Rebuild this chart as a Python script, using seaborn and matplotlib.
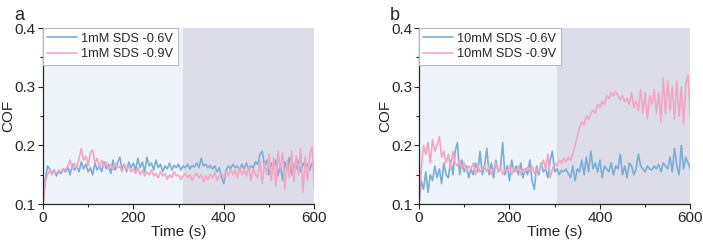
"""
COF vs time, two SDS concentrations, -0.6 V / -0.9 V (panels a, b)
"""
import numpy as np
import pandas as pd
import matplotlib
matplotlib.use("Agg")
import matplotlib.pyplot as plt
import seaborn as sns
from matplotlib.ticker import MultipleLocator

# time axis (s), sampled every 5 s
time_s = np.arange(0, 601, 5)

# panel a : 1mM SDS
a_06 = [
    0.100, 0.140, 0.165, 0.160, 0.152, 0.158, 0.148, 0.156, 0.152, 0.160,
    0.155, 0.162, 0.150, 0.168, 0.158, 0.165, 0.155, 0.172, 0.160, 0.168,
    0.155, 0.162, 0.150, 0.170, 0.158, 0.165, 0.155, 0.172, 0.160, 0.168,
    0.152, 0.175, 0.158, 0.170, 0.180, 0.160, 0.168, 0.155, 0.172, 0.162,
    0.170, 0.158, 0.178, 0.162, 0.172, 0.155, 0.180, 0.165, 0.170, 0.158,
    0.175, 0.162, 0.168, 0.155, 0.165, 0.160, 0.170, 0.158, 0.166, 0.162,
    0.168, 0.158, 0.165, 0.162, 0.168, 0.160, 0.166, 0.163, 0.170, 0.162,
    0.178, 0.165, 0.168, 0.162, 0.166, 0.160, 0.165, 0.155, 0.162, 0.145,
    0.135, 0.158, 0.165, 0.160, 0.168, 0.162, 0.165, 0.158, 0.168, 0.160,
    0.170, 0.158, 0.165, 0.162, 0.172, 0.168, 0.185, 0.190, 0.165, 0.175,
    0.150, 0.170, 0.160, 0.175, 0.148, 0.168, 0.140, 0.172, 0.158, 0.180,
    0.150, 0.168, 0.160, 0.175, 0.155, 0.170, 0.162, 0.168, 0.158, 0.170,
    0.160,
]
a_09 = [
    0.100, 0.135, 0.150, 0.158, 0.150, 0.156, 0.152, 0.158, 0.155, 0.160,
    0.158, 0.165, 0.175, 0.160, 0.170, 0.162, 0.178, 0.195, 0.175, 0.182,
    0.165, 0.188, 0.192, 0.170, 0.178, 0.162, 0.175, 0.165, 0.172, 0.160,
    0.168, 0.158, 0.170, 0.162, 0.165, 0.155, 0.168, 0.158, 0.165, 0.155,
    0.160, 0.152, 0.162, 0.150, 0.158, 0.148, 0.155, 0.150, 0.158, 0.148,
    0.152, 0.145, 0.155, 0.148, 0.152, 0.142, 0.150, 0.145, 0.155, 0.148,
    0.150, 0.142, 0.148, 0.152, 0.145, 0.150, 0.140, 0.148, 0.152, 0.145,
    0.150, 0.138, 0.148, 0.142, 0.150, 0.145, 0.155, 0.140, 0.148, 0.152,
    0.145, 0.155, 0.148, 0.160, 0.150, 0.158, 0.145, 0.162, 0.150, 0.158,
    0.148, 0.165, 0.140, 0.160, 0.150, 0.145, 0.175, 0.135, 0.170, 0.150,
    0.185, 0.140, 0.178, 0.130, 0.190, 0.160, 0.188, 0.125, 0.175, 0.145,
    0.190, 0.138, 0.182, 0.150, 0.195, 0.120, 0.180, 0.140, 0.185, 0.198,
    0.130,
]

# panel b : 10mM SDS
b_06 = [
    0.100, 0.140, 0.125, 0.155, 0.120, 0.150, 0.140, 0.165, 0.145, 0.160,
    0.135, 0.170, 0.150, 0.145, 0.175, 0.150, 0.190, 0.205, 0.150, 0.175,
    0.155, 0.165, 0.145, 0.160, 0.150, 0.170, 0.155, 0.190, 0.150, 0.165,
    0.195, 0.150, 0.170, 0.145, 0.175, 0.155, 0.160, 0.205, 0.150, 0.165,
    0.140, 0.175, 0.155, 0.165, 0.150, 0.170, 0.145, 0.160, 0.150, 0.175,
    0.140, 0.125, 0.165, 0.150, 0.170, 0.155, 0.160, 0.145, 0.175, 0.190,
    0.155, 0.160, 0.150, 0.158, 0.155, 0.160, 0.152, 0.145, 0.165, 0.140,
    0.160, 0.155, 0.175, 0.150, 0.180, 0.155, 0.190, 0.160, 0.170, 0.155,
    0.175, 0.145, 0.165, 0.160, 0.155, 0.170, 0.150, 0.165, 0.160, 0.185,
    0.150, 0.165, 0.145, 0.170, 0.165, 0.150, 0.160, 0.185, 0.165, 0.160,
    0.155, 0.165, 0.160, 0.158, 0.165, 0.160, 0.168, 0.155, 0.170, 0.165,
    0.160, 0.180, 0.155, 0.195, 0.165, 0.150, 0.200, 0.160, 0.180, 0.170,
    0.160,
]
b_09 = [
    0.100, 0.160, 0.200, 0.185, 0.205, 0.170, 0.210, 0.190, 0.200, 0.215,
    0.180, 0.190, 0.170, 0.185, 0.160, 0.190, 0.170, 0.165, 0.175, 0.160,
    0.170, 0.155, 0.165, 0.160, 0.170, 0.150, 0.165, 0.155, 0.160, 0.165,
    0.155, 0.165, 0.150, 0.160, 0.170, 0.155, 0.165, 0.150, 0.160, 0.155,
    0.165, 0.150, 0.162, 0.155, 0.165, 0.150, 0.160, 0.155, 0.163, 0.155,
    0.165, 0.152, 0.160, 0.155, 0.165, 0.175, 0.160, 0.185, 0.145, 0.160,
    0.170, 0.165, 0.175, 0.170, 0.178, 0.172, 0.180, 0.175, 0.185, 0.200,
    0.215, 0.230, 0.240, 0.235, 0.250, 0.245, 0.255, 0.260, 0.255, 0.270,
    0.265, 0.275, 0.270, 0.285, 0.280, 0.290, 0.285, 0.292, 0.285, 0.278,
    0.285, 0.275, 0.280, 0.270, 0.290, 0.265, 0.275, 0.260, 0.295, 0.255,
    0.290, 0.245, 0.285, 0.270, 0.295, 0.255, 0.290, 0.240, 0.315, 0.255,
    0.310, 0.260, 0.300, 0.245, 0.310, 0.250, 0.300, 0.235, 0.305, 0.320,
    0.250,
]

# shaded halves (start of second stage, s)
split_a = 310
split_b = 305

panels = [
    ("a", split_a, {"1mM SDS -0.6V": a_06, "1mM SDS -0.9V": a_09}),
    ("b", split_b, {"10mM SDS -0.6V": b_06, "10mM SDS -0.9V": b_09}),
]

BLUE = "#7aaed4"
PINK = "#f1a7c3"
LIGHT = "#eff4fa"
DARK = "#dddde9"

sns.set_style("ticks")
plt.rcParams["font.family"] = ["Liberation Sans", "DejaVu Sans"]
plt.rcParams["font.size"] = 9

fig = plt.figure(figsize=(7.03, 2.45), dpi=100)
lefts = [0.061, 0.596]

for (letter, split, series), left in zip(panels, lefts):
    ax = fig.add_axes([left, 0.167, 0.386, 0.718])
    names = list(series)
    df = pd.DataFrame({
        "t": np.tile(time_s, 2),
        "cof": np.concatenate([series[n] for n in names]),
        "label": np.repeat(names, len(time_s)),
    })

    ax.axvspan(0, split, color=LIGHT, lw=0, zorder=0)
    ax.axvspan(split, 600, color=DARK, lw=0, zorder=0)

    sns.lineplot(data=df, x="t", y="cof", hue="label",
                 palette=[BLUE, PINK], lw=1.2, ax=ax, zorder=2)

    ax.set_xlim(0, 600)
    ax.set_ylim(0.1, 0.4)
    ax.xaxis.set_major_locator(MultipleLocator(200))
    ax.xaxis.set_minor_locator(MultipleLocator(100))
    ax.yaxis.set_major_locator(MultipleLocator(0.1))
    ax.yaxis.set_minor_locator(MultipleLocator(0.05))
    ax.tick_params(which="major", length=3.5, width=0.8, labelsize=11, pad=1.5)
    ax.tick_params(which="minor", length=2, width=0.8)
    for s in ("top", "right"):
        ax.spines[s].set_visible(False)
    ax.spines["left"].set_linewidth(0.9)
    ax.spines["bottom"].set_linewidth(0.9)

    ax.set_xlabel("Time (s)", fontsize=11, labelpad=0)
    ax.set_ylabel("COF", fontsize=11)
    ax.yaxis.set_label_coords(-0.10, 0.5)

    leg = ax.legend(loc="upper left", fontsize=9.2, handlelength=2.3,
                    handletextpad=0.35, borderaxespad=0, borderpad=0.35,
                    labelspacing=0.3, fancybox=False, framealpha=1,
                    edgecolor="#bbbbbb")
    leg.get_frame().set_linewidth(0.8)
    leg.set_title(None)

    fig.text(left - 0.041, 0.97, letter, fontsize=13, va="top")

fig.savefig("out.png", dpi=100)
